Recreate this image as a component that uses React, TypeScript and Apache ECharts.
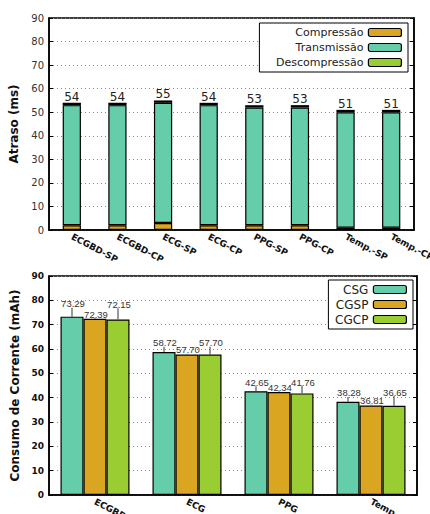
import React, { useEffect, useRef } from "react";
import * as echarts from "echarts";

const delayCategories = ["ECGBD-SP", "ECGBD-CP", "ECG-SP", "ECG-CP", "PPG-SP", "PPG-CP", "Temp.-SP", "Temp.-CP"];
const compressao = [2, 2, 3, 2, 2, 2, 1, 1];
const transmissao = [51, 51, 51, 51, 50, 50, 49, 49];
const descompressao = [1, 1, 1, 1, 1, 1, 1, 1];
const delayTicks = { min: 0, max: 90, interval: 10 };

const energyCategories = ["ECGBD", "ECG", "PPG", "Temp"];
const csg = [73.29, 58.72, 42.65, 38.28];
const cgsp = [72.39, 57.7, 42.34, 36.81];
const cgcp = [72.15, 57.7, 41.76, 36.65];
const csgErr = [3.7, 2.2, 2.0, 2.0];
const cgspErr = [0.3, 0.3, 0.3, 0.3];
const cgcpErr = [4.6, 3.2, 3.0, 4.0];
const energyTicks = { min: 0, max: 90, interval: 10 };

const C_ORANGE = "#DAA520";
const C_TEAL = "#66CDAA";
const C_GREEN = "#9ACD32";
const FONT = "DejaVu Sans";

export default function App() {
  const ref = useRef<HTMLDivElement>(null);
  useEffect(() => {
    if (!ref.current) return;
    const chart = echarts.init(ref.current, null, { renderer: "svg" });
    const totals = compressao.map((c, i) => c + transmissao[i] + descompressao[i]);

    const barStyle = (color: string) => ({ color, borderColor: "#000", borderWidth: 1.2 });

    const errSeries = (name: string, vals: number[], errs: number[], idx: number) => ({
      type: "custom",
      name: name + "-err",
      xAxisIndex: 1,
      yAxisIndex: 2,
      z: 5,
      data: vals.map((v, i) => [i, v, errs[i]]),
      renderItem: (params: any, api: any) => {
        const cat = api.value(0);
        const v = api.value(1);
        const e = api.value(2);
        const base = api.coord([cat, v]);
        const top = api.coord([cat, v + e]);
        const band = api.size([1, 0])[0];
        const bw = band * 0.25;
        const x = base[0] + (idx - 1) * bw;
        return {
          type: "group",
          children: [
            {
              type: "line",
              shape: { x1: x, y1: base[1], x2: x, y2: top[1] },
              style: { stroke: "#555", lineWidth: 1.2 },
            },
            {
              type: "text",
              x: x + 1,
              y: top[1] + 1,
              style: {
                text: v.toFixed(2),
                fill: "#333",
                font: `9.5px "Liberation Sans"`,
                textAlign: "center",
                textVerticalAlign: "bottom",
              },
            },
          ],
        };
      },
    });

    const yLeftCommon = {
      type: "value",
      nameLocation: "middle",
      nameRotate: 90,
      axisLine: { show: true, lineStyle: { color: "#000", width: 1.5 } },
      axisTick: { show: true, inside: true, length: 4, lineStyle: { color: "#000" } },
      splitLine: { show: true, lineStyle: { type: [1, 3], color: "#888", width: 1 } },
    };
    const yRightCommon = {
      type: "value",
      position: "right",
      axisLine: { show: true, lineStyle: { color: "#000", width: 1.5 } },
      axisTick: { show: true, inside: true, length: 4, lineStyle: { color: "#000" } },
      axisLabel: { show: false },
      splitLine: { show: false },
    };

    const xLabel = { rotate: -28, fontSize: 9, fontWeight: "bold", color: "#111", margin: 6, fontFamily: FONT };

    const option: any = {
      animation: false,
      textStyle: { fontFamily: FONT },
      grid: [
        { left: 49, right: 16, top: 18, height: 212, show: true, borderColor: "#000", borderWidth: 1.5, backgroundColor: "transparent", outerBoundsMode: "none", containLabel: false },
        { left: 49, right: 13, top: 276, height: 219, show: true, borderColor: "#000", borderWidth: 1.5, backgroundColor: "transparent", outerBoundsMode: "none", containLabel: false },
      ],
      legend: [
        {
          data: ["Compressão", "Transmissão", "Descompressão"],
          orient: "vertical",
          right: 22,
          top: 23,
          align: "right",
          itemWidth: 33,
          itemHeight: 8,
          itemGap: 2,
          padding: [3, 6, 3, 6],
          borderColor: "#000",
          borderWidth: 1,
          backgroundColor: "#fff",
          textStyle: { fontFamily: FONT, fontSize: 11, color: "#222", width: 98, align: "right", lineHeight: 13 },
          itemStyle: { borderColor: "#000", borderWidth: 1.2 },
        },
        {
          data: ["CSG", "CGSP", "CGCP"],
          orient: "vertical",
          right: 17,
          top: 280,
          align: "right",
          itemWidth: 33,
          itemHeight: 8,
          itemGap: 2,
          padding: [3, 6, 3, 6],
          borderColor: "#000",
          borderWidth: 1,
          backgroundColor: "#fff",
          textStyle: { fontFamily: FONT, fontSize: 12, color: "#222", width: 34, align: "right", lineHeight: 13 },
          itemStyle: { borderColor: "#000", borderWidth: 1.2 },
        },
      ],
      xAxis: [
        {
          type: "category",
          gridIndex: 0,
          data: delayCategories,
          axisLine: { show: true, lineStyle: { color: "#000", width: 1.5 } },
          axisTick: { show: false },
          axisLabel: xLabel,
        },
        {
          type: "category",
          gridIndex: 1,
          data: energyCategories,
          axisLine: { show: true, lineStyle: { color: "#000", width: 1.5 } },
          axisTick: { show: false },
          axisLabel: xLabel,
        },
      ],
      yAxis: [
        {
          ...yLeftCommon,
          gridIndex: 0,
          ...delayTicks,
          name: "Atraso (ms)",
          nameGap: 20,
          nameTextStyle: { fontSize: 12, fontWeight: "bold", color: "#111", fontFamily: FONT },
          axisLabel: { fontSize: 10, color: "#333", margin: 5, fontFamily: FONT },
        },
        { ...yRightCommon, gridIndex: 0, ...delayTicks },
        {
          ...yLeftCommon,
          gridIndex: 1,
          ...energyTicks,
          name: "Consumo de Corrente (mAh)",
          nameGap: 20,
          nameTextStyle: { fontSize: 12, fontWeight: "bold", color: "#111", fontFamily: FONT },
          axisLabel: { fontSize: 9, fontWeight: "bold", color: "#111", margin: 5, fontFamily: FONT },
        },
        { ...yRightCommon, gridIndex: 1, ...energyTicks },
      ],
      series: [
        {
          name: "Compressão", type: "bar", stack: "d", xAxisIndex: 0, yAxisIndex: 0,
          barWidth: "40%", data: compressao, itemStyle: barStyle(C_ORANGE),
        },
        {
          name: "Transmissão", type: "bar", stack: "d", xAxisIndex: 0, yAxisIndex: 0,
          barWidth: "40%", data: transmissao, itemStyle: barStyle(C_TEAL),
        },
        {
          name: "Descompressão", type: "bar", stack: "d", xAxisIndex: 0, yAxisIndex: 0,
          barWidth: "40%", data: descompressao, itemStyle: barStyle(C_GREEN),
          label: {
            show: true, position: "top", distance: 0,
            formatter: (p: any) => String(Math.round(totals[p.dataIndex])),
            fontSize: 12, color: "#222", fontFamily: FONT,
          },
        },
        {
          name: "CSG", type: "bar", xAxisIndex: 1, yAxisIndex: 2,
          barGap: "0%", barCategoryGap: "25%", data: csg, itemStyle: barStyle(C_TEAL),
        },
        {
          name: "CGSP", type: "bar", xAxisIndex: 1, yAxisIndex: 2,
          barGap: "0%", barCategoryGap: "25%", data: cgsp, itemStyle: barStyle(C_ORANGE),
        },
        {
          name: "CGCP", type: "bar", xAxisIndex: 1, yAxisIndex: 2,
          barGap: "0%", barCategoryGap: "25%", data: cgcp, itemStyle: barStyle(C_GREEN),
        },
        errSeries("CSG", csg, csgErr, 0),
        errSeries("CGSP", cgsp, cgspErr, 1),
        errSeries("CGCP", cgcp, cgcpErr, 2),
      ],
    };
    chart.setOption(option);
    return () => chart.dispose();
  }, []);
  return <div ref={ref} style={{ position: "fixed", left: 0, top: 0, width: 430, height: 514, background: "#fff" }} />;
}
